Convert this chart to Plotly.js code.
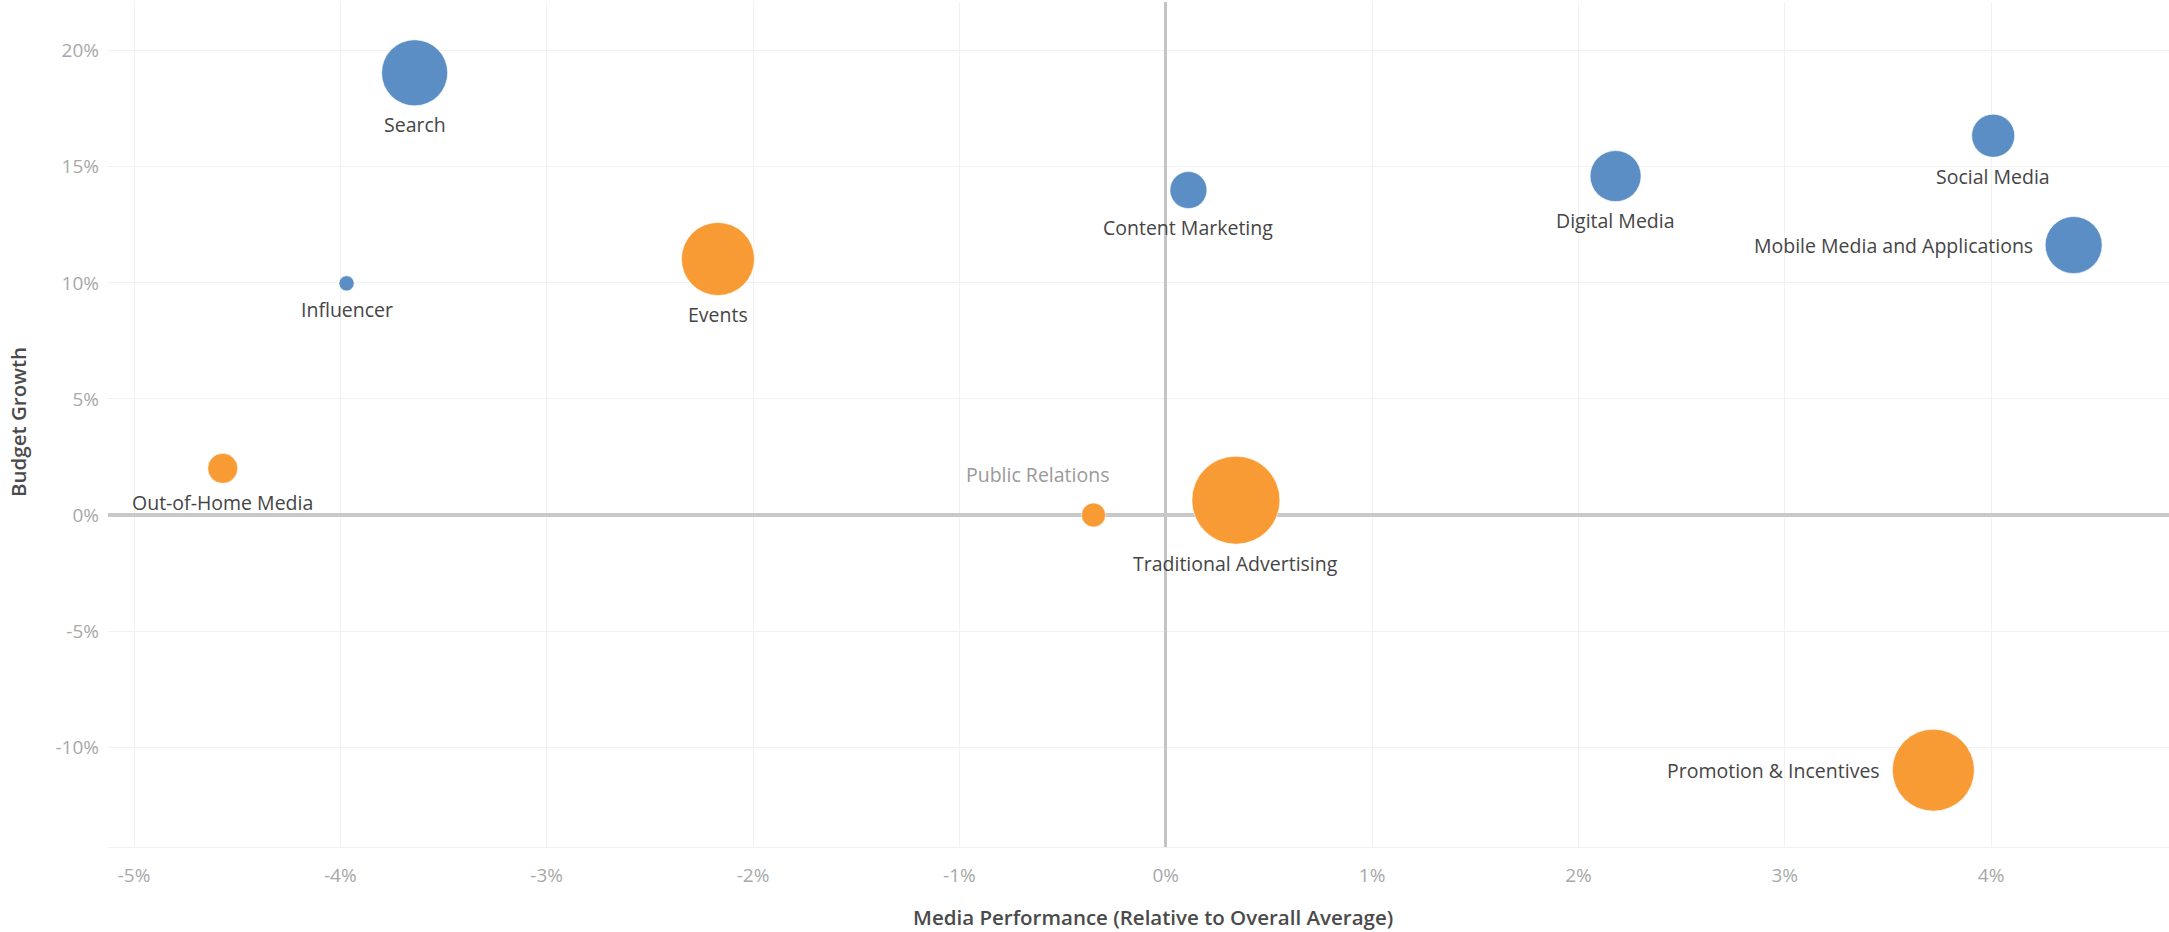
<!DOCTYPE html>
<html>
<head>
<meta charset="utf-8">
<script src="https://cdn.plot.ly/plotly-3.0.1.min.js"></script>
<style>html,body{margin:0;padding:0;background:#fff;}#chart{width:2169px;height:932px;}</style>
</head>
<body>
<div id="chart"></div>
<script>
// ---- data ----
const channels = ["Search","Influencer","Events","Out-of-Home Media","Public Relations","Traditional Advertising","Content Marketing","Digital Media","Social Media","Mobile Media and Applications","Promotion & Incentives"];
const mediaPerformance = [-3.64, -3.97, -2.17, -4.57, -0.35, 0.34, 0.11, 2.18, 4.01, 4.40, 3.72];   // % relative to overall average
const budgetGrowth     = [19.05, 9.98, 11.03, 2.01, 0.0, 0.64, 14.0, 14.6, 16.34, 11.63, -10.99]; // %
const budgetShare      = [43.6, 2.3, 53.3, 9.0, 5.8, 77.4, 13.7, 26.0, 18.5, 32.5, 67.2];       // bubble size measure
const channelGroup     = ["Digital","Digital","Traditional","Traditional","Traditional","Traditional","Digital","Digital","Digital","Digital","Traditional"];
const xTickVals = [-5,-4,-3,-2,-1,0,1,2,3,4];
const xTickText = ["-5%","-4%","-3%","-2%","-1%","0%","1%","2%","3%","4%"];
const yTickVals = [-10,-5,0,5,10,15,20];
const yTickText = ["-10%","-5%","0%","5%","10%","15%","20%"];

// ---- style ----
const groupColor = {Digital: "#5A8EC5", Traditional: "#F89B35"};
const SIZEREF = 0.01;               // bubble diameter(px) = sqrt(size / SIZEREF)
const labelPlacement = {            // how each label sits relative to its bubble
  "Public Relations": "aboveLeft",
  "Mobile Media and Applications": "left",
  "Promotion & Incentives": "left"
};
const FONT = "Open Sans, Noto Sans, sans-serif";

const traces = ["Digital","Traditional"].map(g => {
  const idx = channels.map((c,i)=>i).filter(i => channelGroup[i] === g);
  return {
    type: "scatter", mode: "markers", name: g,
    x: idx.map(i => mediaPerformance[i]),
    y: idx.map(i => budgetGrowth[i]),
    text: idx.map(i => channels[i]),
    marker: {
      size: idx.map(i => budgetShare[i]),
      sizemode: "area", sizeref: 2 * SIZEREF,
      color: groupColor[g], opacity: 1,
      line: {width: 1, color: "rgba(255,255,255,0.6)"}
    },
    hovertemplate: "%{text}<br>%{x:.2f}%, %{y:.2f}%<extra></extra>",
    showlegend: false
  };
});

const annotations = channels.map((c,i) => {
  const r = Math.sqrt(budgetShare[i] / SIZEREF) / 2;
  const p = labelPlacement[c] || "below";
  const a = {
    x: mediaPerformance[i], y: budgetGrowth[i], xref: "x", yref: "y",
    text: c, showarrow: false,
    font: {family: FONT, size: 19.5, color: "#454545"},
    xanchor: "center", yanchor: "middle"
  };
  if (p === "below") { a.yshift = -(r + 19); }
  else if (p === "left") { a.xanchor = "right"; a.xshift = -(r + 10); }
  else if (p === "aboveLeft") { a.xshift = -56; a.yshift = 41; a.font.color = "#9a9a9a"; }
  return a;
});

annotations.push({
  xref: "paper", yref: "paper", x: 0.507, y: 0, yshift: -70,
  xanchor: "center", yanchor: "middle", showarrow: false,
  text: "Media Performance (Relative to Overall Average)",
  font: {family: FONT, size: 20.5, color: "#4a4a4a", weight: 600}
});
annotations.push({
  xref: "paper", yref: "paper", x: 0, y: 0.503, xshift: -90,
  xanchor: "center", yanchor: "middle", showarrow: false, textangle: -90,
  text: "Budget Growth",
  font: {family: FONT, size: 20.5, color: "#4a4a4a", weight: 600}
});

const layout = {
  width: 2169, height: 932,
  margin: {l: 108, r: 0, t: 2, b: 85, pad: 0},
  paper_bgcolor: "#ffffff", plot_bgcolor: "#ffffff",
  font: {family: FONT},
  xaxis: {
    range: [-5.126, 4.862],
    tickmode: "array", tickvals: xTickVals, ticktext: xTickText,
    tickfont: {family: FONT, size: 19, color: "#a8a8a8"},
    ticks: "", ticklabelstandoff: 11,
    showgrid: true, gridcolor: "#f1f1f1", gridwidth: 1,
    zeroline: true, zerolinecolor: "#c4c4c4", zerolinewidth: 3,
    showline: true, linecolor: "#f1f1f1", linewidth: 1,
    fixedrange: true
  },
  yaxis: {
    range: [-14.3, 22.1],
    tickmode: "array", tickvals: yTickVals, ticktext: yTickText,
    tickfont: {family: FONT, size: 19, color: "#a8a8a8"},
    ticks: "", ticklabelstandoff: 8,
    showgrid: true, gridcolor: "#f1f1f1", gridwidth: 1,
    zeroline: true, zerolinecolor: "#c8c8c8", zerolinewidth: 4,
    showline: false,
    fixedrange: true
  },
  annotations: annotations,
  showlegend: false
};

Plotly.newPlot("chart", traces, layout, {displayModeBar: false, staticPlot: true});
</script>
</body>
</html>
